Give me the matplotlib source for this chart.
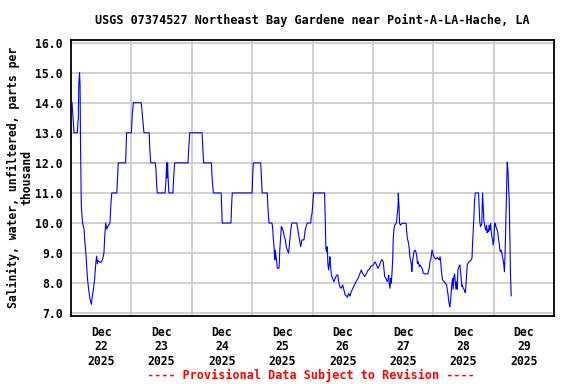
# USGS 07374527 salinity, Dec 22-29 2025 (provisional)
import pandas as pd
import matplotlib
matplotlib.use('Agg')
import matplotlib.pyplot as plt

start = pd.Timestamp('2025-12-22')

# hours after Dec 22 00:00
hours = [0.0, 0.4, 0.8, 1.2, 2.5, 2.9, 3.1, 3.4, 3.6, 3.8, 4.1, 4.6, 5.2, 5.4, 6.0, 6.5, 7.0, 7.6, 8.1,
         8.3, 8.9, 9.4, 9.9, 10.2, 10.5, 10.7, 11.5, 12.0, 12.6, 13.1, 13.4, 13.8, 14.2, 14.7, 15.5, 15.8,
         16.2, 18.2, 18.5, 18.8, 21.7, 21.9, 22.1, 24.0, 24.3, 24.5, 24.8, 27.9, 28.2, 29.0, 31.1,
         31.3, 31.7, 33.5, 33.8, 34.1, 34.3, 37.4, 37.8, 38.0, 38.2, 38.4, 38.6, 38.9, 40.5, 40.8, 41.2,
         46.5, 46.8, 47.2, 52.1, 52.4, 52.7, 55.8, 56.1, 56.6, 59.7, 59.9, 60.1, 63.6, 63.8, 64.1,
         72.0, 72.2, 72.5, 75.4, 75.7, 76.0, 78.0, 78.3, 78.7, 79.9, 80.2, 80.4, 80.7, 81.0, 81.2, 81.5,
         81.7, 82.0, 82.7, 83.0, 83.3, 83.6, 83.9, 84.4, 84.8, 85.2, 85.6, 86.0, 86.5, 87.0, 87.4, 87.8,
         89.7, 90.2, 90.7, 91.1, 91.3, 91.8, 92.6, 93.1, 93.9, 95.3, 95.5, 95.8, 96.2, 96.4,
         100.8, 101.1, 101.3, 101.6, 101.9, 102.1, 102.4, 102.7, 102.9, 103.2, 103.5, 104.0, 104.5,
         105.0, 105.6, 106.1, 106.4, 106.9, 107.4, 108.0, 108.5, 109.0, 109.6, 109.8, 110.4, 110.9,
         111.4, 112.2, 112.7, 113.5, 114.1, 114.9, 115.4, 115.9, 116.7, 117.5, 118.0, 118.8, 119.3,
         120.1, 120.9, 121.5, 122.0, 122.5, 123.1, 123.6, 124.1, 124.7, 125.2, 125.7,
         126.0, 126.3, 126.5, 126.8, 127.1, 127.3, 127.6, 127.9, 128.1, 128.4, 128.7, 129.2, 129.4,
         129.7, 130.0, 130.1, 130.4, 130.6, 131.0, 131.6, 132.4, 133.2, 133.4, 133.7, 134.2, 134.5,
         134.7, 135.3, 135.5, 135.8, 136.1, 136.3, 136.9, 137.4, 137.7, 137.9, 138.5, 138.7, 139.3,
         139.8, 140.0, 140.8, 141.9, 142.2, 142.4, 142.7, 143.0, 143.2, 143.5, 144.0, 144.6, 145.1,
         145.6, 145.9, 146.4, 146.7, 146.9, 147.2, 147.5, 147.7, 148.3, 148.8, 149.3, 149.6, 149.9,
         150.1, 150.4, 150.6, 150.9, 151.2, 151.4, 151.7, 151.9, 152.2, 152.5, 152.7, 153.0, 153.3,
         153.5, 153.8, 154.0, 154.3, 154.6, 154.8, 155.1, 155.4, 155.6, 155.9, 156.2, 156.4, 156.7,
         157.0, 157.2, 157.5, 157.8, 158.3, 158.8, 159.4, 159.6, 159.9, 160.1, 160.4, 160.7, 162.0,
         162.3, 162.5, 162.8, 163.1, 163.3, 163.6, 163.9, 164.1, 164.4, 164.7, 164.9, 165.2, 165.4,
         165.7, 166.0, 166.2, 166.5, 166.8, 167.0, 167.3, 167.6, 167.8, 168.1, 168.4, 168.6, 168.9,
         169.2, 169.4, 169.7, 169.9, 170.2, 170.5, 170.7, 171.0, 171.3, 171.5, 171.8, 172.1, 172.3,
         172.6, 172.9, 173.1, 173.4, 173.7, 173.9, 174.2, 174.5, 174.7, 175.0]

# salinity, parts per thousand
salinity = [14.0, 14.0, 13.5, 13.0, 13.0, 13.5, 14.6, 15.0, 14.6, 12.5, 10.55, 10.0, 9.8, 9.5, 8.9, 8.2, 7.8, 7.45, 7.3,
            7.45, 7.8, 8.15, 8.7, 8.9, 8.65, 8.75, 8.7, 8.7, 8.8, 9.0, 9.55, 10.0, 9.8, 9.9, 10.0, 10.55,
            11.0, 11.0, 11.5, 12.0, 12.0, 12.5, 13.0, 13.0, 13.5, 13.75, 14.0, 14.0, 13.75, 13.0, 13.0,
            12.5, 12.0, 12.0, 11.75, 11.2, 11.0, 11.0, 11.5, 12.0, 11.5, 12.0, 11.5, 11.0, 11.0, 11.5, 12.0,
            12.0, 12.5, 13.0, 13.0, 12.5, 12.0, 12.0, 11.5, 11.0, 11.0, 10.5, 10.0, 10.0, 10.5, 11.0,
            11.0, 11.5, 12.0, 12.0, 11.5, 11.0, 11.0, 10.5, 10.0, 10.0, 9.8, 9.5, 9.2, 8.77, 9.1, 8.9,
            8.77, 8.5, 8.5, 9.1, 9.5, 9.88, 9.85, 9.71, 9.55, 9.44, 9.2, 9.1, 9.0, 9.44, 9.8, 10.0,
            10.0, 9.77, 9.5, 9.33, 9.21, 9.44, 9.44, 9.77, 10.0, 10.0, 10.2, 10.32, 10.74, 11.0,
            11.0, 10.0, 9.16, 9.05, 9.21, 8.66, 8.44, 8.66, 8.88, 8.55, 8.27, 8.16, 8.05,
            8.16, 8.27, 8.27, 8.05, 7.88, 7.83, 7.94, 7.77, 7.61, 7.57, 7.53, 7.66, 7.57,
            7.72, 7.86, 7.94, 8.08, 8.16, 8.33, 8.44, 8.33, 8.22, 8.33, 8.42, 8.49, 8.57,
            8.60, 8.71, 8.60, 8.49, 8.57, 8.71, 8.79, 8.71, 8.22, 8.16, 8.05,
            8.11, 8.27, 8.0, 7.83, 8.16, 8.0, 8.33, 8.83, 9.49, 9.82, 9.93, 9.99, 10.01,
            10.32, 10.54, 10.99, 10.54, 9.99, 9.93, 9.99, 9.99, 9.99, 9.77, 9.49, 9.33, 9.10,
            8.88, 8.61, 8.39, 8.77, 8.88, 9.05, 9.10, 8.94, 8.66, 8.72, 8.55, 8.61, 8.53,
            8.44, 8.33, 8.31, 8.31, 8.44, 8.50, 8.72, 8.77, 8.88, 9.10, 8.94, 8.83, 8.80,
            8.86, 8.83, 8.77, 8.88, 8.77, 8.44, 8.22, 8.11, 8.05, 8.0, 7.94, 7.78, 7.61,
            7.44, 7.28, 7.22, 7.44, 7.78, 7.99, 8.16, 7.80, 8.22, 8.31, 8.11, 7.80, 8.05,
            7.80, 8.44, 8.49, 8.57, 8.61, 8.44, 8.16, 7.89, 7.94, 7.83, 7.80, 7.77, 7.69,
            7.94, 8.22, 8.61, 8.66, 8.72, 8.74, 8.83, 9.27, 9.77, 10.10, 10.71, 11.0, 11.0,
            10.38, 10.04, 9.88, 9.93, 9.99, 11.0, 10.43, 10.10, 9.93, 9.82, 9.77, 9.93, 9.68,
            9.77, 9.71, 9.93, 9.77, 9.99, 9.77, 9.55, 9.44, 9.27, 9.44, 9.99, 9.99, 9.88,
            9.82, 9.77, 9.66, 9.49, 9.33, 9.10, 9.05, 9.10, 8.99, 8.88, 8.77, 8.57, 8.38,
            9.10, 10.21, 10.82, 12.02, 11.76, 11.26, 10.76, 9.33, 8.33, 7.58]

yticks = [7.0, 8.0, 9.0, 10.0, 11.0, 12.0, 13.0, 14.0, 15.0, 16.0]
day_labels = ['22', '23', '24', '25', '26', '27', '28', '29']

font = 'DejaVu Sans Mono'
times = start + pd.to_timedelta(hours, unit='h')

fig = plt.figure(figsize=(5.76, 3.84), dpi=100)
ax = fig.add_axes([71/576, 68/384, 483/576, 276.5/384])

ax.plot(times, salinity, color='#0000ff', lw=0.8, zorder=3)

ax.set_xlim(start, start + pd.Timedelta(days=8))
ax.set_ylim(6.91, 16.1)

# midnight gridlines, labels at noon
ax.set_xticks([start + pd.Timedelta(days=d) for d in range(1, 8)])
ax.set_xticks([start + pd.Timedelta(hours=12 + 24 * i) for i in range(8)], minor=True)
ax.set_xticklabels([])
ax.set_xticklabels(['Dec\n{}\n2025'.format(d) for d in day_labels], minor=True,
                   fontfamily=font, fontweight='bold', fontsize=8.3, linespacing=1.15)
ax.tick_params(axis='x', which='both', length=0, pad=7)

ax.set_yticks(yticks)
ax.set_yticklabels(['{:.1f}'.format(v) for v in yticks], fontfamily=font, fontweight='bold', fontsize=8.3)
ax.tick_params(axis='y', length=0, pad=6)

ax.grid(True, which='major', color='#c8c8c8', lw=1.2)
for s in ax.spines.values():
  s.set_linewidth(1.3)

ax.set_title('USGS 07374527 Northeast Bay Gardene near Point-A-LA-Hache, LA',
             fontfamily=font, fontweight='bold', fontsize=8.5, pad=11)
ax.set_ylabel('Salinity, water, unfiltered, parts per\nthousand', fontfamily=font,
              fontweight='bold', fontsize=8.3, linespacing=1.1, labelpad=1)
fig.text(0.54, 9/384, '---- Provisional Data Subject to Revision ----', color='red', ha='center',
         va='center', fontfamily=font, fontweight='bold', fontsize=8.5)

plt.savefig('out.png', dpi=100)
